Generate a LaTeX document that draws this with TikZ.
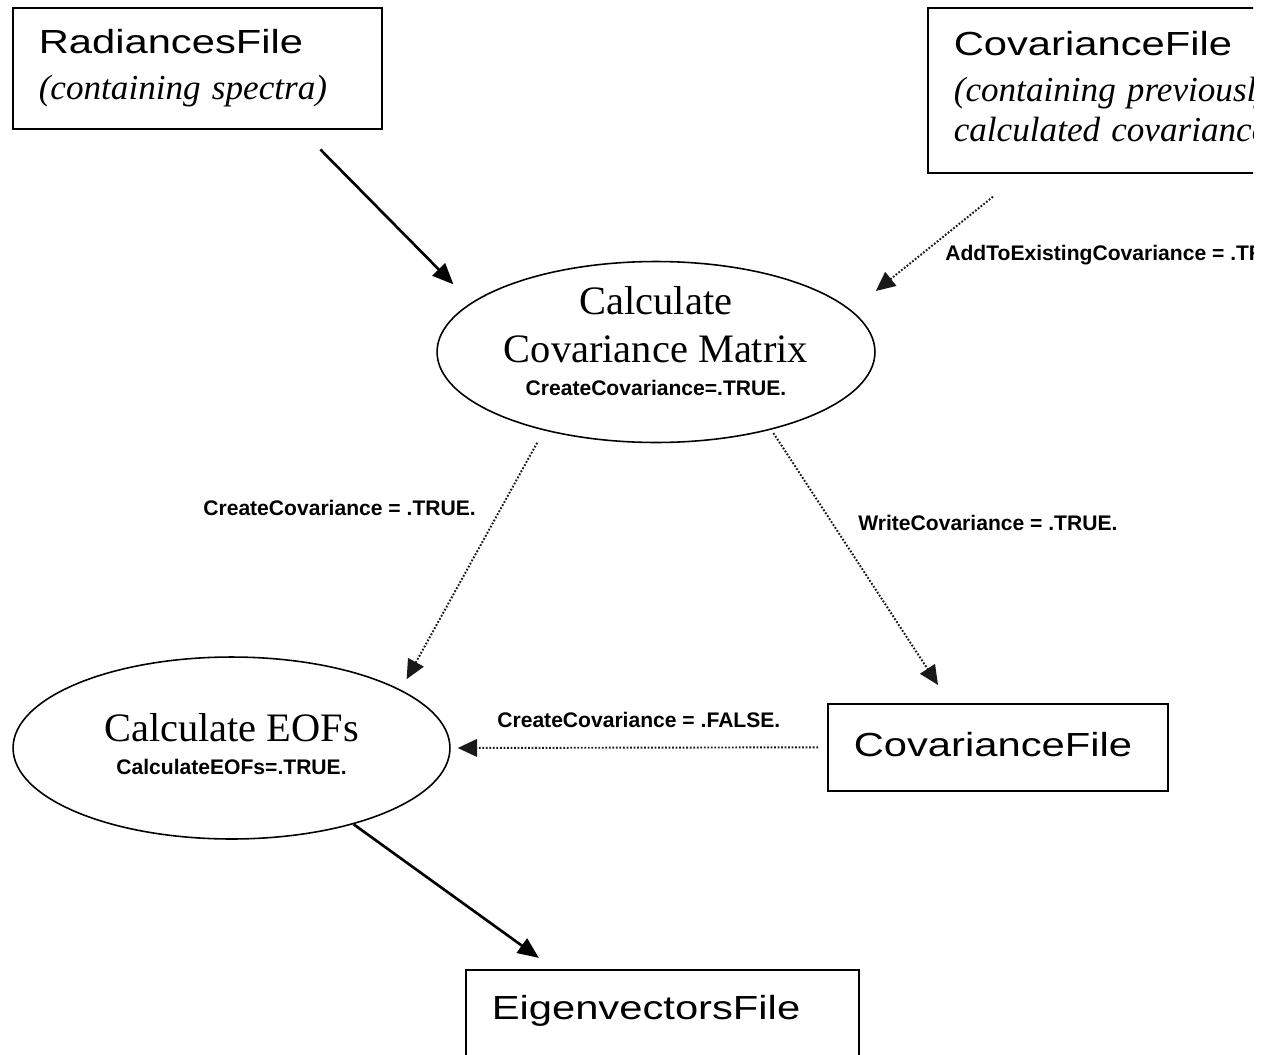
\documentclass[tikz,border=0pt]{standalone}
\usepackage{fontspec}
\setmainfont{Liberation Serif}
\newfontfamily\boxfont[FakeStretch=1.25]{Liberation Sans}
\newfontfamily\lblfont{Liberation Sans}
\usepackage{tikz}
\usetikzlibrary{shapes.geometric, arrows.meta}

\newcommand{\subline}[1]{\mbox{\rmfamily\itshape\fontsize{20}{26}\selectfont #1}}

\begin{document}
\begin{tikzpicture}[
    x=0.02cm, y=-0.02cm,
    filebox/.style={rectangle, draw=black, line width=0.9pt, anchor=north west, align=left, inner xsep=0.52cm, inner ysep=0pt, font=\boxfont\fontsize{19}{26}\selectfont},
    process/.style={ellipse, draw=black, line width=0.9pt, inner xsep=0pt, inner ysep=-0.2cm, align=center, minimum width=8.76cm, minimum height=3.62cm, font=\fontsize{23}{27.8}\selectfont},
    edge_label/.style={anchor=base west, inner sep=0pt, font=\lblfont\bfseries\fontsize{12}{14}\selectfont},
    solidarrow/.style={-{Triangle[length=12pt,width=10pt]}, line width=1.5pt},
    dotarrow/.style={-{Triangle[length=11pt,width=10pt]}, line width=1.1pt, dash pattern=on 1pt off 1pt, black!90}
]
\useasboundingbox (0,0) rectangle (1266,1054);
\clip (0,0) rectangle (1253,1054);

% Nodes
\node[filebox, text width=6.34cm, minimum height=2.42cm] (rad) at (12,7) {RadiancesFile\\\subline{(containing spectra)}};
\node[filebox, text width=6.4cm, minimum height=3.3cm] (covin) at (927,7) {CovarianceFile\\\subline{(containing previously}\\[-3pt]\subline{calculated covariance)}};
\node[process, text depth=0.44cm] (calccov) at (656,352) {Calculate\\Covariance Matrix\\[-9pt]{\lblfont\bfseries\fontsize{12}{14}\selectfont CreateCovariance=.TRUE.}};
\node[process, text depth=0.16cm, minimum width=8.74cm, minimum height=3.64cm] (calceof) at (231.5,748) {Calculate EOFs\\[-9pt]{\lblfont\bfseries\fontsize{12}{14}\selectfont CalculateEOFs=.TRUE.}};
\node[filebox, text width=5.76cm, minimum height=1.74cm, text depth=0.1cm] (covout) at (827,703) {CovarianceFile};
\node[filebox, text width=6.82cm, minimum height=2.42cm] (eig) at (465,969) {EigenvectorsFile\\\mbox{}};

% Edges
\draw[solidarrow, shorten <=0.56cm, shorten >=0.51cm] ([xshift=2.07cm]rad.south) -- (calccov.165);
\draw[dotarrow, shorten <=0.74cm, shorten >=0.62cm] ([xshift=-1.84cm]covin.south) -- (calccov.12.5);
\draw[dotarrow, shorten <=0.28cm, shorten >=0.24cm] (calccov.215) -- (calceof.19.8);
\draw[dotarrow, shorten <=0.08cm, shorten >=0.43cm] (calccov.326.3) -- ([xshift=-0.96cm]covout.north);
\draw[dotarrow, shorten <=0.18cm, shorten >=0.14cm] (covout.west) -- (calceof.east);
\draw[solidarrow, shorten >=0.38cm] (calceof.328.5) -- ([xshift=-2.16cm]eig.north);

% Labels
\node[edge_label] (addlbl) at (945,260) {AddToExistingCovariance = .TRUE.};
\node[edge_label] (crtlbl) at (203,515) {CreateCovariance = .TRUE.};
\node[edge_label] (wrtlbl) at (858,530) {WriteCovariance = .TRUE.};
\node[edge_label] (fallbl) at (497,727) {CreateCovariance = .FALSE.};

\end{tikzpicture}
\end{document}
